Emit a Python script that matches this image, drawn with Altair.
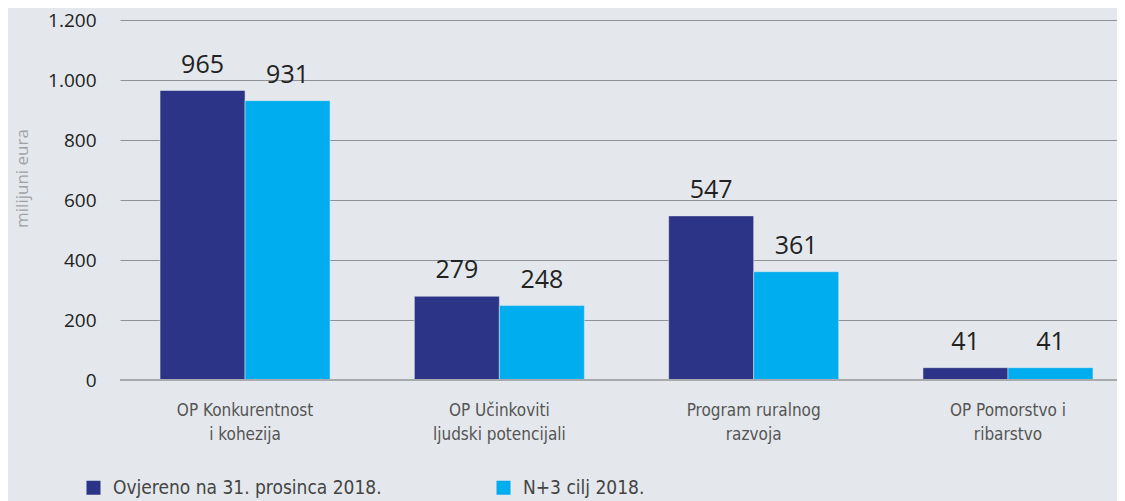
import altair as alt
import pandas as pd

categories = ["OP Konkurentnost\ni kohezija", "OP Učinkoviti\nljudski potencijali",
              "Program ruralnog\nrazvoja", "OP Pomorstvo i\nribarstvo"]
series = ["Ovjereno na 31. prosinca 2018.", "N+3 cilj 2018."]
certified = [965, 279, 547, 41]
target = [931, 248, 361, 41]
colors = ["#2b3486", "#00adef"]
y_ticks = [0, 200, 400, 600, 800, 1000, 1200]

rows = []
for c, a, b in zip(categories, certified, target):
    rows.append({"cat": c, "series": series[0], "value": a})
    rows.append({"cat": c, "series": series[1], "value": b})
df = pd.DataFrame(rows)

FONT_C = "Liberation Sans Narrow, DejaVu Sans Condensed, Roboto Condensed, Open Sans"
FONT_N = "Open Sans"
BG = "#e4e8ec"

x_enc = alt.X("cat:N", sort=categories, title=None,
              scale=alt.Scale(paddingInner=0.3316, paddingOuter=0.126, align=0.625),
              axis=alt.Axis(domain=False, ticks=False, labelExpr="split(datum.label, '\\n')",
                            labelFont=FONT_C, labelFontSize=17, labelColor="#555555",
                            labelPadding=22, labelLineHeight=24, labelAngle=0,
                            labelBaseline="top", labelLimit=400))
xo_enc = alt.XOffset("series:N", sort=series, scale=alt.Scale(paddingInner=0, paddingOuter=0))
y_enc = alt.Y("value:Q", title="milijuni eura",
              scale=alt.Scale(domain=[0, 1200], nice=False),
              axis=alt.Axis(values=y_ticks, domain=False, ticks=False,
                            labelExpr="replace(format(datum.value, ','), ',', '.')",
                            labelFont=FONT_N, labelFontSize=19, labelColor="#222222",
                            labelPadding=24, gridColor="#8e9296", gridWidth=1.2,
                            titleFont=FONT_N, titleFontSize=17, titleFontWeight="normal",
                            titleColor="#a0a3a6", titleX=-98, titleY=158, titleAngle=270,
                            titleAlign="center", titleBaseline="middle"))

bars = alt.Chart(df).mark_bar(stroke=BG, strokeWidth=0.5).encode(
    x=x_enc, xOffset=xo_enc, y=y_enc,
    color=alt.Color("series:N", sort=series,
                    scale=alt.Scale(domain=series, range=colors),
                    legend=alt.Legend(title=None, orient="none", legendX=-36, legendY=458,
                                      direction="horizontal", symbolType="square",
                                      symbolSize=196, symbolStrokeWidth=0,
                                      labelFont=FONT_C, labelFontSize=19,
                                      labelColor="#444444", labelLimit=500,
                                      columnPadding=112, labelOffset=10)),
)

labels = alt.Chart(df).mark_text(baseline="bottom", dy=-13, font=FONT_N, fontSize=25,
                                 color="#222222").encode(
    x=alt.X("cat:N", sort=categories), xOffset=xo_enc, y="value:Q",
    text="value:Q")

zero = alt.Chart(df).mark_rule(color="#a8abae", strokeWidth=2).encode(y=alt.datum(0))

chart = alt.layer(bars, zero, labels).properties(
    width=997, height=360,
    autosize=alt.AutoSizeParams(type="none"),
    padding={"left": 112, "top": 12, "right": 0, "bottom": 121},
    background=BG,
).configure_view(stroke=None).configure_axis(labelFontWeight="normal")

chart.save("out.html", embed_options={"renderer": "svg", "actions": False})
